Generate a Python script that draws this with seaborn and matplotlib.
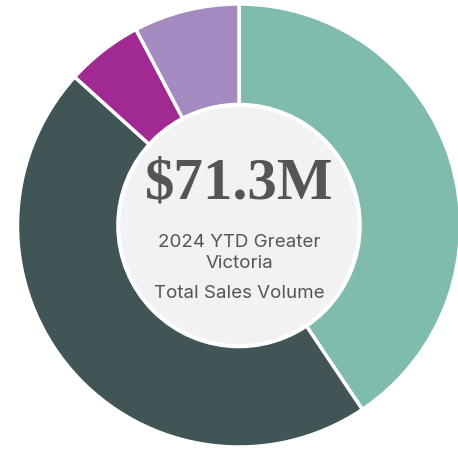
import matplotlib

matplotlib.use("Agg")
import matplotlib.pyplot as plt
import seaborn as sns
from matplotlib.patches import Circle

# share of total sales volume, clockwise from 12 o'clock
segments = ["Segment 1", "Segment 2", "Segment 3", "Segment 4"]
shares = [40.6, 46.1, 5.6, 7.7]
colors = ["#7fbcad", "#415456", "#a02a92", "#a48abf"]

headline = "$71.3M"
caption_lines = ["2024 YTD Greater", "Victoria", "Total Sales Volume"]
caption_y = [-0.078, -0.171, -0.309]

sns.set_theme(style="white")
plt.rcParams["font.family"] = ["Inter", "DejaVu Sans"]

fig = plt.figure(figsize=(4.58, 4.51), dpi=100)
ax = fig.add_axes([0, 0, 1, 1])

ax.pie(
    shares,
    colors=colors,
    startangle=90,
    counterclock=False,
    radius=1.0,
    wedgeprops={"edgecolor": "white", "linewidth": 2.5},
)
ax.add_patch(Circle((0, 0), 0.545, facecolor="#f1f2f4", edgecolor="white", linewidth=3, zorder=5))

ax.text(0, 0.187, headline, ha="center", va="center", fontsize=42.5, fontweight="bold",
        family=["Liberation Serif", "DejaVu Serif"], color="#555557", zorder=6)
for line, y in zip(caption_lines, caption_y):
    ax.text(0, y, line, ha="center", va="center", fontsize=13.5, color="#555557", zorder=6)

ax.set_xlim(-239 / 221.5, 219 / 221.5)
ax.set_ylim(-225.5 / 221.5, 225.5 / 221.5)
ax.set_aspect("auto")
ax.axis("off")

fig.savefig("out.png", dpi=100, facecolor="white")
plt.close(fig)
